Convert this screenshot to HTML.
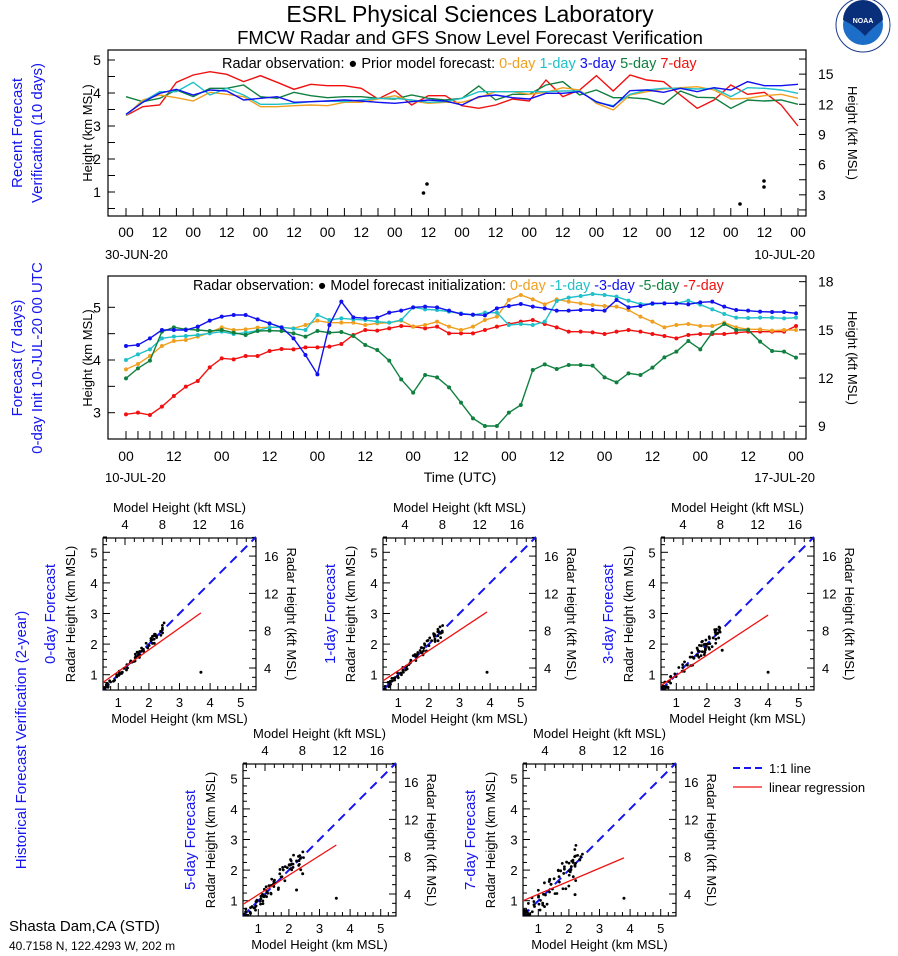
<!DOCTYPE html>
<html><head><meta charset="utf-8"><style>
body{margin:0;background:#fff}
svg{display:block;font-family:"Liberation Sans",sans-serif}
</style></head><body>
<svg id="s" width="898" height="956" viewBox="0 0 898 956" xmlns="http://www.w3.org/2000/svg">
<rect width="898" height="956" fill="#fff"/>
<text x="470" y="22" font-size="23" text-anchor="middle">ESRL Physical Sciences Laboratory</text>
<text x="470" y="44" font-size="18.5" text-anchor="middle">FMCW Radar and GFS Snow Level Forecast Verification</text>
<g>
<circle cx="863" cy="25" r="27" fill="#fff" stroke="#1a3a8a" stroke-width="1"/>
<circle cx="863" cy="25" r="20" fill="#1d6ec8"/>
<path d="M843,20 A20,20 0 0 1 883,20 Q872,28 865,36 Q856,26 843,20Z" fill="#0a2f7a"/>
<text x="863" y="23" font-size="7" fill="#fff" text-anchor="middle" font-weight="bold">NOAA</text>
</g>
</svg>
<script>
const S=document.getElementById('s');const NS='http://www.w3.org/2000/svg';
function el(t,a,txt){const e=document.createElementNS(NS,t);for(const k in a)e.setAttribute(k,a[k]);if(txt!==undefined)e.textContent=txt;S.appendChild(e);return e;}
function txt(x,y,s,fs,opt){opt=opt||{};const a={x:x,y:y,'font-size':fs,'text-anchor':opt.a||'middle',fill:opt.f||'#000'};if(opt.r)a.transform=`rotate(${opt.r} ${x} ${y})`;return el('text',a,s);}
const COL={o:'#f0a020',c:'#20c0c8',b:'#1010f0',g:'#108040',r:'#f01010'};
// ---------- top panel
(function(){
 const L=108,R=806,T=50,B=216;
 el('rect',{x:L,y:T,width:R-L,height:B-T,fill:'none',stroke:'#000','stroke-width':1.2});
 const yk=k=>225-k*33;
 for(let k=0.5;k<=5.3;k+=0.5){el('line',{x1:L,x2:L+7,y1:yk(k),y2:yk(k),stroke:'#000'});}
 [1,2,3,4,5].forEach(k=>txt(97,yk(k)+5,String(k),14));
 for(let f=1.5;f<=17;f+=1.5){const y=225-f*0.3048*33;if(y>T&&y<B)el('line',{x1:R-7,x2:R,y1:y,y2:y,stroke:'#000'});}
 [3,6,9,12,15].forEach(f=>txt(818,225-f*0.3048*33+5,String(f),14,{a:'start'}));
 for(let i=0;i<=40;i++){const x=126+i*16.8;el('line',{x1:x,x2:x,y1:B,y2:B-8,stroke:'#000'});}
 for(let i=0;i<=20;i++){txt(126+i*33.6,237,i%2?'12':'00',14);}
 txt(105,259,'30-JUN-20',13,{a:'start'});txt(815,259,'10-JUL-20',13,{a:'end'});
 txt(92,133,'Height (km MSL)',13,{r:-90});
 txt(848,133,'Height (kft MSL)',13,{r:90});
 txt(22,133,'Recent Forecast',15,{r:-90,f:'#1515f0'});
 txt(42,133,'Verification (10 days)',15,{r:-90,f:'#1515f0'});
 const lg=el('text',{x:222,y:68,'font-size':14.5});
 lg.innerHTML='Radar observation: <tspan>●</tspan>  Prior model forecast:  <tspan fill="'+COL.o+'">0-day</tspan> <tspan fill="'+COL.c+'">1-day</tspan> <tspan fill="'+COL.b+'">3-day</tspan> <tspan fill="'+COL.g+'">5-day</tspan> <tspan fill="'+COL.r+'">7-day</tspan>';
 const d={
 r:[212,185,180,112,90,80,88,110,92,112,133,118,122,122,130,162,137,180,152,152,182,190,180,162,168,105,155,135,92,138,90,105,110,150,190,165,120,148,142,180,243],
 o:[212,165,150,158,168,142,148,155,185,185,182,180,182,172,172,162,152,168,175,172,172,158,140,140,148,142,128,135,175,195,150,140,132,128,125,135,162,160,152,148,160],
 c:[210,170,140,140,112,150,130,150,178,178,175,170,168,170,165,160,160,165,172,170,160,140,140,140,140,140,138,138,172,182,148,135,130,130,132,130,155,128,130,135,145],
 g:[155,170,160,135,155,130,130,120,155,160,142,152,158,155,155,160,162,150,160,165,160,123,165,148,148,120,110,150,135,158,158,162,178,138,157,158,190,165,168,165,178],
 b:[208,172,145,133,150,135,138,165,160,155,172,170,168,165,168,172,175,170,165,168,180,155,150,158,162,145,145,140,170,185,137,135,142,130,140,128,135,110,122,122,118]};
 ['r','g','o','c','b'].forEach(k=>{el('polyline',{points:d[k].map((v,i)=>(126+i*16.8)+','+(45+v/3)).join(' '),fill:'none',stroke:COL[k],'stroke-width':1.4});});
 [[427,184],[423.5,193],[740,204],[764,181],[764,187]].forEach(p=>el('circle',{cx:p[0],cy:p[1],r:1.8,fill:'#000'}));
})();
// ---------- middle panel
(function(){
 const L=108,R=806,T=276,B=439;
 el('rect',{x:L,y:T,width:R-L,height:B-T,fill:'none',stroke:'#000','stroke-width':1.2});
 const yk=k=>307.3+(5-k)*52.7;
 for(let k=2.7;k<=5.5;k+=0.5){const kk=Math.round(k*2)/2;const y=yk(kk);if(y>T&&y<B)el('line',{x1:L,x2:L+7,y1:y,y2:y,stroke:'#000'});}
 [3,4,5].forEach(k=>txt(97,yk(k)+5,String(k),14));
 for(let f=9;f<=18;f+=1.5){const y=yk(f*0.3048);if(y>T&&y<B)el('line',{x1:R-7,x2:R,y1:y,y2:y,stroke:'#000'});}
 [9,12,15,18].forEach(f=>txt(818,yk(f*0.3048)+5,String(f),14,{a:'start'}));
 const dx=670/56;
 for(let i=0;i<=56;i++){const x=126+i*dx;el('line',{x1:x,x2:x,y1:B,y2:B-8,stroke:'#000'});}
 for(let i=0;i<=14;i++)txt(126+i*4*dx,461,i%2?'12':'00',14);
 txt(105,482,'10-JUL-20',13,{a:'start'});txt(815,482,'17-JUL-20',13,{a:'end'});
 txt(460,482,'Time (UTC)',14);
 txt(92,358,'Height (km MSL)',13,{r:-90});
 txt(848,358,'Height (kft MSL)',13,{r:90});
 txt(22,358,'Forecast (7 days)',15,{r:-90,f:'#1515f0'});
 txt(42,358,'0-day Init 10-JUL-20 00 UTC',15,{r:-90,f:'#1515f0'});
 const lg=el('text',{x:193,y:290,'font-size':14.3});
 lg.innerHTML='Radar observation: ●  Model forecast initialization:  <tspan fill="'+COL.o+'">0-day</tspan> <tspan fill="'+COL.c+'">-1-day</tspan> <tspan fill="'+COL.b+'">-3-day</tspan> <tspan fill="'+COL.g+'">-5-day</tspan> <tspan fill="'+COL.r+'">-7-day</tspan>';
 const pad=a=>{while(a.length<57)a.push(a[a.length-1]);return a.slice(0,57);};
 const d={
 r:[433,428,435,410,378,350,333,292,265,268,258,258,243,237,238,232,232,230,222,195,180,182,175,168,170,175,170,190,190,190,180,170,162,155,150,162,172,185,185,187,192,185,180,185,192,198,205,195,192,192,192,188,185,185,185,185,168],
 o:[298,282,258,228,213,210,200,188,172,180,178,173,172,172,175,165,152,158,158,158,165,160,158,152,170,165,155,170,180,170,150,140,90,75,88,103,88,95,100,105,108,110,120,140,155,172,165,162,168,168,158,172,178,178,182,180,180],
 c:[270,253,238,205,200,198,195,190,185,192,188,182,172,172,176,180,135,150,145,148,150,155,158,150,112,118,120,125,130,135,128,128,165,162,165,155,93,83,78,72,75,80,92,102,102,100,100,92,104,118,132,143,144,143,143,145,143],
 g:[325,295,272,185,172,178,180,183,180,188,195,183,182,183,190,200,183,188,186,198,225,240,272,328,368,315,322,352,398,445,468,468,428,405,300,283,297,285,285,287,322,337,310,315,293,262,245,213,238,188,162,180,180,215,243,245,263],
 b:[228,225,205,180,180,180,170,152,140,135,135,148,160,172,205,255,313,165,95,142,145,143,128,122,112,110,112,122,132,134,136,115,108,102,110,115,122,122,120,120,122,90,112,108,100,100,100,103,97,95,110,120,122,125,126,126,130]};
 ['r','o','c','g','b'].forEach(k=>{const a=pad(d[k]);const pts=a.map((v,i)=>[126+i*dx,270+v/3]);
  el('polyline',{points:pts.map(p=>p.join(',')).join(' '),fill:'none',stroke:COL[k],'stroke-width':1.4});
  pts.forEach(p=>el('circle',{cx:p[0],cy:p[1],r:2,fill:COL[k]}));});
})();
// ---------- scatter plots
let seed=7;function rnd(){seed=(seed*16807)%2147483647;return seed/2147483647;}
function scatter(L,T,name,reg,spread,out){
 const W=153,sc=30.6,R=L+W,B=T+152;
 const X=k=>L+(k-0.5)*sc, Y=k=>B-(k-0.5)*sc;
 el('rect',{x:L,y:T,width:W,height:152,fill:'none',stroke:'#000','stroke-width':1.2});
 for(let k=0.5;k<=5.5;k+=0.25){const x=X(k),y=Y(k);const len=(k%1===0)?7:4;
  el('line',{x1:x,x2:x,y1:B,y2:B-len,stroke:'#000'});el('line',{x1:L,x2:L+len,y1:y,y2:y,stroke:'#000'});}
 for(let f=2;f<=18;f+=1){const k=f*0.3048;if(k<0.5)continue;const len=(f%4===0)?7:4;
  el('line',{x1:X(k),x2:X(k),y1:T,y2:T+len,stroke:'#000'});el('line',{x1:R,x2:R-len,y1:Y(k),y2:Y(k),stroke:'#000'});}
 [1,2,3,4,5].forEach(k=>{txt(X(k),B+17,String(k),13);txt(L-9,Y(k)+5,String(k),13);});
 [4,8,12,16].forEach(f=>{txt(X(f*0.3048),T-9,String(f),13);txt(R+8,Y(f*0.3048)+5,String(f),13,{a:'start'});});
 txt(L+W/2,B+33,'Model Height (km MSL)',13);txt(L+W/2,T-26,'Model Height (kft MSL)',13);
 txt(L-28,T+76,'Radar Height (km MSL)',13,{r:-90});
 txt(R+31,T+76,'Radar Height (kft MSL)',13,{r:90});
 txt(L-48,T+76,name,15,{r:-90,f:'#1515f0'});
 el('line',{x1:X(0.5),y1:Y(0.5),x2:X(5.5),y2:Y(5.5),stroke:'#1515f0','stroke-width':2,'stroke-dasharray':'9,6'});
 const cp=document.createElementNS(NS,'clipPath');cp.id='c'+L+T;const rr=document.createElementNS(NS,'rect');
 rr.setAttribute('x',L);rr.setAttribute('y',T);rr.setAttribute('width',W);rr.setAttribute('height',152);cp.appendChild(rr);S.appendChild(cp);
 for(let i=0;i<70;i++){const m=0.5+Math.pow(rnd(),1.3)*1.9;const r=m+(rnd()-0.5)*2*spread*(0.3+m*0.3);
  if(r<0.45)continue;el('circle',{cx:X(m),cy:Y(Math.max(0.52,r)),r:1.4,fill:'#000','clip-path':'url(#c'+L+T+')'});}
 for(let i=0;i<10;i++){const m=2+rnd()*0.5;el('circle',{cx:X(m),cy:Y(m+(rnd()-0.3)*0.3),r:1.4,fill:'#000'});}
 out.forEach(p=>el('circle',{cx:X(p[0]),cy:Y(p[1]),r:1.5,fill:'#000'}));
 el('line',{x1:X(0.5),y1:Y(reg[0]),x2:X(reg[1]),y2:Y(reg[2]),stroke:'#f01010','stroke-width':1.3});
}
scatter(103,538,'0-day Forecast',[0.75,3.7,3.02],0.18,[[3.7,1.08]]);
scatter(383,538,'1-day Forecast',[0.8,3.9,3.05],0.2,[[3.9,1.08]]);
scatter(661,538,'3-day Forecast',[0.65,4.0,2.95],0.3,[[4.0,1.08],[2.5,1.8]]);
scatter(243,764,'5-day Forecast',[0.88,3.55,2.82],0.4,[[3.55,1.08],[2.25,1.35],[2.45,1.88]]);
scatter(523,764,'7-day Forecast',[1.0,3.8,2.4],0.6,[[3.8,1.08],[2.2,1.2]]);
txt(26,740,'Historical Forecast Verification (2-year)',15,{r:-90,f:'#1515f0'});
el('line',{x1:733,x2:762,y1:768,y2:768,stroke:'#1515f0','stroke-width':2,'stroke-dasharray':'7,4'});
txt(769,773,'1:1 line',13,{a:'start'});
el('line',{x1:733,x2:762,y1:787,y2:787,stroke:'#f01010','stroke-width':1.3});
txt(769,792,'linear regression',13,{a:'start'});
txt(9,931,'Shasta Dam,CA (STD)',15,{a:'start'});
txt(9,950,'40.7158 N, 122.4293 W, 202 m',12,{a:'start'});
</script>
</body></html>
